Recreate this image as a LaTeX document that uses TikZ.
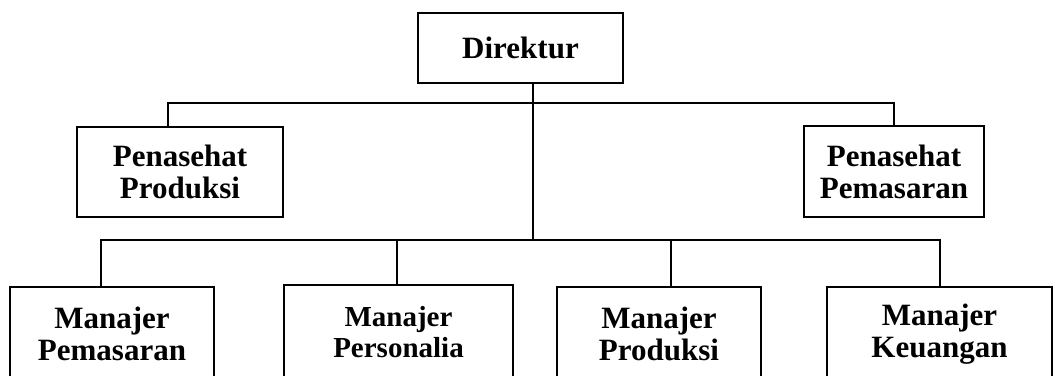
\documentclass[tikz,border=0pt]{standalone}
\usepackage{fontspec}
\setmainfont{Liberation Serif}
\begin{document}
\begin{tikzpicture}[x=1pt,y=-1pt,
  box/.style={draw, line width=1.8pt, align=center, inner sep=0pt,
    font=\fontsize{31}{32}\selectfont\bfseries},
  conn/.style={line width=1.8pt}]
\useasboundingbox (0,0) rectangle (1054,375);
\clip (0,0) rectangle (1054,375);
% top
\node[box, minimum width=205pt, minimum height=70pt] (dir) at (520.5,48) {Direktur};
\node[box, minimum width=206pt, minimum height=90pt] (pp) at (180,172) {Penasehat\\Produksi};
\node[box, minimum width=180pt, minimum height=91pt] (pm) at (894,171.5) {Penasehat\\Pemasaran};
% bottom row
\node[box, minimum width=204pt, minimum height=94pt] (m1) at (112,334) {Manajer\\Pemasaran};
\node[box, minimum width=229pt, minimum height=94pt, font=\fontsize{29}{31}\selectfont\bfseries] (m2) at (398.5,332) {Manajer\\Personalia};
\node[box, minimum width=204pt, minimum height=94pt] (m3) at (659,334) {Manajer\\Produksi};
\node[box, minimum width=225pt, minimum height=94pt] (m4) at (939.5,334) {Manajer\\Keuangan};
% connector coordinates
\coordinate (tl) at (168,103);
\coordinate (tr) at (894,103);
\coordinate (bj) at (533,240);
\coordinate (bl) at (101,240);
\coordinate (br) at (940,240);
\coordinate (v2) at (397,240);
\coordinate (v3) at (671,240);
% connectors
\draw[conn] (tl |- pp.north) -- (tl) -- (tr) -- (tr |- pm.north);
\draw[conn] (dir.south -| bj) -- (bj);
\draw[conn] (bl |- m1.north) -- (bl) -- (br) -- (br |- m4.north);
\draw[conn] (v2) -- (v2 |- m2.north);
\draw[conn] (v3) -- (v3 |- m3.north);
\end{tikzpicture}
\end{document}
